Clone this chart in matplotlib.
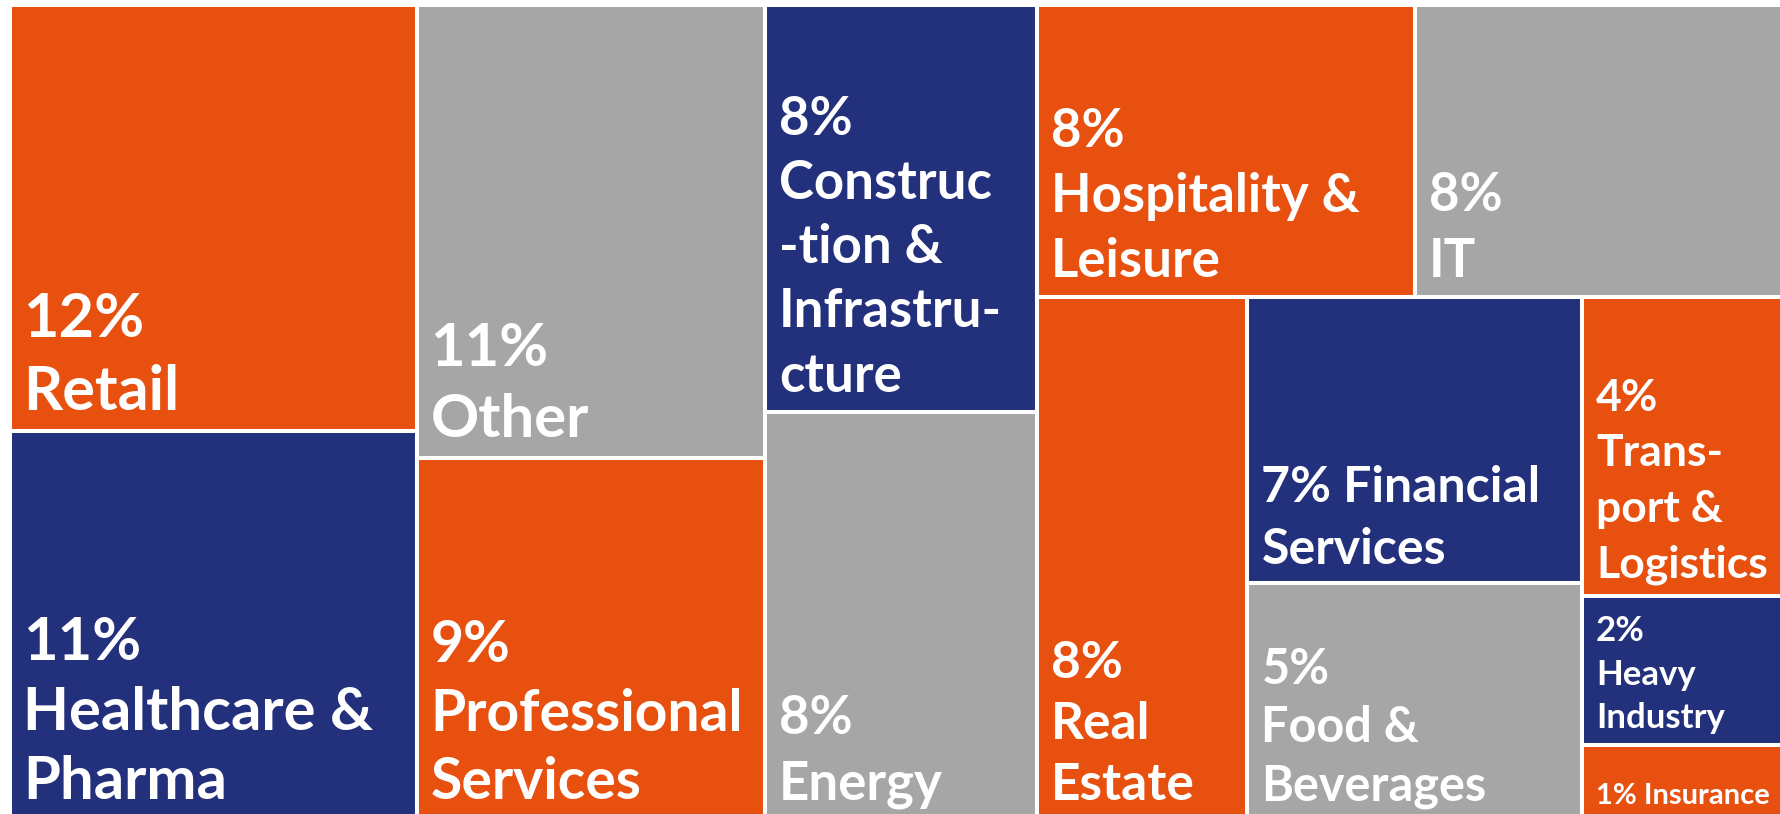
import matplotlib
matplotlib.use("Agg")
import matplotlib.pyplot as plt
from matplotlib.patches import Rectangle

# share of total, in %
categories = ["Retail", "Healthcare & Pharma", "Other", "Professional Services",
              "Construction & Infrastructure", "Energy", "Hospitality & Leisure", "IT",
              "Real Estate", "Financial Services", "Food & Beverages",
              "Transport & Logistics", "Heavy Industry", "Insurance"]
shares = [11.91, 10.89, 10.84, 8.67, 7.60, 7.63, 7.59, 7.63, 7.56, 6.56, 5.46, 4.38, 2.19, 1.10]

# how each label is broken to fit its box ({p} = rounded share)
label_text = ["{p}\nRetail", "{p}\nHealthcare &\nPharma", "{p}\nOther",
              "{p}\nProfessional\nServices", "{p}\nConstruc\n-tion &\nInfrastru-\ncture",
              "{p}\nEnergy", "{p}\nHospitality &\nLeisure", "{p}\nIT", "{p}\nReal\nEstate",
              "{p} Financial\nServices", "{p}\nFood &\nBeverages",
              "{p}\nTrans-\nport &\nLogistics", "{p}\nHeavy\nIndustry", "{p} Insurance"]

ORANGE = "#E8500F"
NAVY = "#23317D"
GREY = "#A6A6A6"
colors = [ORANGE, NAVY, GREY, ORANGE, NAVY, GREY, ORANGE, GREY,
          ORANGE, NAVY, GREY, ORANGE, NAVY, ORANGE]
font_sizes = [44, 43, 43, 41, 38, 38, 38, 38, 37, 36, 35, 32, 25, 21]
line_gaps = [1.37, 1.36, 1.37, 1.36, 1.38, 1.42, 1.40, 1.42, 1.38, 1.44, 1.37, 1.47, 1.45, 1.4]

# nesting of the treemap: "cols" = side by side, "rows" = stacked
layout = ("cols", [("rows", [0, 1]), ("rows", [2, 3]), ("rows", [4, 5]),
                   ("rows", [("cols", [6, 7]),
                             ("cols", [8, ("rows", [9, 10]), ("rows", [11, 12, 13])])])])


def node_sum(node):
    if isinstance(node, int):
        return shares[node]
    return sum(node_sum(k) for k in node[1])


def place(node, x, y, w, h, out):
    if isinstance(node, int):
        out[node] = (x, y, w, h)
        return
    direction, kids = node
    total = node_sum(node)
    for kid in kids:
        frac = node_sum(kid) / total
        if direction == "cols":
            place(kid, x, y, w * frac, h, out)
            x += w * frac
        else:
            place(kid, x, y, w, h * frac, out)
            y += h * frac


plt.rcParams['font.family'] = ['Lato', 'DejaVu Sans']

fig = plt.figure(figsize=(17.8, 8.14), dpi=100)
ax = fig.add_axes([0, 0, 1, 1])
ax.set_xlim(0, 1780)
ax.set_ylim(814, 0)
ax.axis("off")

# canvas in pixels (the original screenshot crops its right and bottom edge)
rects = {}
place(layout, 9.5, 4.5, 1786, 816, rects)

for i in range(len(shares)):
    x, y, w, h = rects[i]
    ax.add_patch(Rectangle((x, y), w, h, facecolor=colors[i], edgecolor="white", linewidth=2.9))
    txt = label_text[i].format(p=f"{round(shares[i])}%")
    ax.annotate(txt, (x, y + h), textcoords="offset points", xytext=(10, 8),
                ha="left", va="bottom", color="white", fontsize=font_sizes[i],
                fontweight="bold", linespacing=line_gaps[i], annotation_clip=False)

fig.savefig("out.png", dpi=100)
